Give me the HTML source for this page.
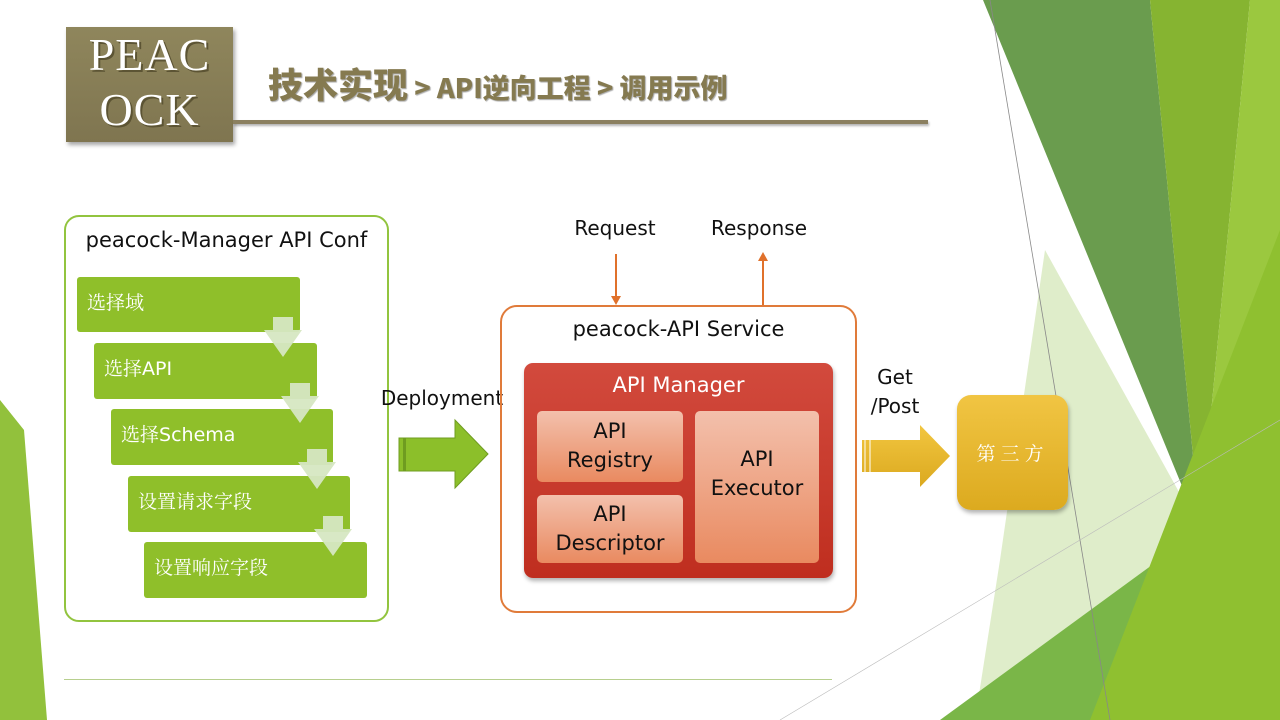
<!DOCTYPE html>
<html><head><meta charset="utf-8"><style>
body{margin:0;width:1280px;height:720px;position:relative;overflow:hidden;background:#fff;font-family:"Liberation Sans","Noto Sans CJK SC",sans-serif}
.a{position:absolute;box-sizing:border-box}
.t{font-family:"DejaVu Sans","Noto Sans CJK SC",sans-serif;color:#111;font-size:20px;white-space:nowrap;text-align:center}
.step{background:#8fbf2a;border-radius:3px;color:#fff;font-size:19px;font-family:"Noto Serif CJK SC","DejaVu Sans",serif;padding:10px 0 0 10px;line-height:30px}
.sub{background:linear-gradient(#f3c0ac,#e98a60);border-radius:5px;color:#111;font-size:21px;font-family:"DejaVu Sans",sans-serif;text-align:center;line-height:29px}
</style></head><body>
<svg class="a" style="left:0;top:0" width="1280" height="720">
<polygon points="0,400 24,430 47,720 0,720" fill="#92c13c"/>
<polygon points="1045,250 1200,530 1060,720 975,720 1000,560" fill="#dcebc4" opacity="0.9"/>
<polygon points="983,0 1150,0 1200,530" fill="#6a9c4e"/>
<polygon points="1150,0 1250,0 1200,530" fill="#86b431"/>
<polygon points="1250,0 1280,0 1280,720 1110,720 1200,530" fill="#9bc83f"/>
<polygon points="940,720 1200,530 1240,720" fill="#7ab648"/>
<polygon points="1090,720 1280,230 1280,720" fill="#8fc030"/>
<line x1="990" y1="0" x2="1110" y2="720" stroke="#888" stroke-width="0.8"/>
<line x1="780" y1="720" x2="1280" y2="420" stroke="#bbb" stroke-width="0.6"/>
</svg>

<!-- header -->
<div class="a" style="left:66px;top:27px;width:167px;height:115px;background:linear-gradient(#8f865c,#7f7550);box-shadow:2px 3px 4px rgba(0,0,0,.35);color:#fff;font-family:'Liberation Serif',serif;font-size:46px;line-height:55px;text-align:center;letter-spacing:1px;text-shadow:2px 2px 0 #5c5434">PEAC<br>OCK</div>
<div class="a" style="left:233px;top:120px;width:695px;height:4px;background:#8b8060;box-shadow:1px 2px 2px rgba(0,0,0,.3)"></div>
<div class="a" style="left:268px;top:58px;color:#857a50;font-family:'Noto Sans CJK SC',sans-serif;font-weight:900;white-space:nowrap;text-shadow:1px 1px 1px rgba(0,0,0,.35)"><span style="font-size:35px">技术实现</span><span style="font-size:27px"> &gt; API逆向工程 &gt; 调用示例</span></div>

<!-- left box -->
<div class="a" style="left:64px;top:215px;width:325px;height:407px;border:2px solid #92c43f;border-radius:15px"></div>
<div class="a t" style="left:64px;top:228px;width:325px;font-size:21px">peacock-Manager API Conf</div>
<div class="a step" style="left:77px;top:277px;width:223px;height:55px">选择域</div>
<div class="a step" style="left:94px;top:343px;width:223px;height:56px">选择<span style="font-family:'DejaVu Sans'">API</span></div>
<div class="a step" style="left:111px;top:409px;width:222px;height:56px">选择<span style="font-family:'DejaVu Sans'">Schema</span></div>
<div class="a step" style="left:128px;top:476px;width:222px;height:56px">设置请求字段</div>
<div class="a step" style="left:144px;top:542px;width:223px;height:56px">设置响应字段</div>
<svg class="a" style="left:0;top:0" width="520" height="620">
<g fill="#d6e7c2" opacity="0.95">
<polygon points="273,317 293,317 293,330 302,330 283,357 264,330 273,330"/>
<polygon points="290,383 310,383 310,396 319,396 300,423 281,396 290,396"/>
<polygon points="307,449 327,449 327,462 336,462 317,489 298,462 307,462"/>
<polygon points="323,516 343,516 343,529 352,529 333,556 314,529 323,529"/>
</g>
<polygon points="399,438 455,438 455,420 488,454 455,488 455,471 399,471" fill="#8cbf2a" stroke="#6f9c20" stroke-width="1"/>
<rect x="403" y="438" width="3" height="33" fill="#6f9c20"/>
</svg>
<div class="a t" style="left:372px;top:386px;width:140px">Deployment</div>

<!-- service -->
<div class="a t" style="left:560px;top:216px;width:110px">Request</div>
<div class="a t" style="left:700px;top:216px;width:118px">Response</div>
<svg class="a" style="left:0;top:0" width="1280" height="720">
<line x1="616" y1="254" x2="616" y2="298" stroke="#e0712b" stroke-width="2"/>
<polygon points="611,296 621,296 616,305" fill="#e0712b"/>
<line x1="763" y1="260" x2="763" y2="305" stroke="#e0712b" stroke-width="2"/>
<polygon points="758,261 768,261 763,252" fill="#e0712b"/>
<defs><linearGradient id="y" x1="0" y1="0" x2="0" y2="1"><stop offset="0" stop-color="#f2c640"/><stop offset="1" stop-color="#dba91f"/></linearGradient></defs>
<polygon points="862,440 920,440 920,425 950,456 920,487 920,472 862,472" fill="url(#y)"/>
<rect x="864" y="440" width="2" height="32" fill="#fff" opacity=".5"/>
<rect x="869" y="440" width="2" height="32" fill="#fff" opacity=".5"/>
</svg>
<div class="a" style="left:500px;top:305px;width:357px;height:308px;border:2px solid #e07b3a;border-radius:17px"></div>
<div class="a t" style="left:500px;top:317px;width:357px;font-size:21px">peacock-API Service</div>
<div class="a" style="left:524px;top:363px;width:309px;height:215px;border-radius:9px;background:linear-gradient(#d24a3d,#bf2e1f);box-shadow:1px 3px 4px rgba(0,0,0,.3)"></div>
<div class="a t" style="left:524px;top:373px;width:309px;color:#fff;font-size:21px">API Manager</div>
<div class="a sub" style="left:537px;top:411px;width:146px;height:71px;padding-top:6px">API<br>Registry</div>
<div class="a sub" style="left:537px;top:495px;width:146px;height:68px;padding-top:5px">API<br>Descriptor</div>
<div class="a sub" style="left:695px;top:411px;width:124px;height:152px;padding-top:34px">API<br>Executor</div>

<div class="a t" style="left:860px;top:365px;width:70px">Get</div>
<div class="a t" style="left:860px;top:394px;width:70px">/Post</div>
<div class="a" style="left:957px;top:395px;width:111px;height:115px;border-radius:14px;background:linear-gradient(#f1c543,#dcaa1f);box-shadow:1px 3px 4px rgba(0,0,0,.3);color:#fff;font-family:'Noto Serif CJK SC',serif;font-size:19px;letter-spacing:5px;text-align:center;line-height:115px">第三方</div>

<div class="a" style="left:64px;top:679px;width:768px;height:1px;background:#b7cf8e"></div>
</body></html>
